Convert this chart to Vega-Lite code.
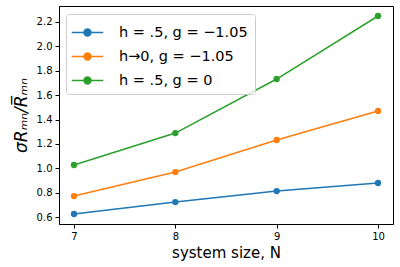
{
  "$schema": "https://vega.github.io/schema/vega-lite/v6.json",
  "width": 334,
  "height": 218,
  "autosize": {"type": "none"},
  "padding": {"left": 59, "top": 6, "right": 7, "bottom": 43},
  "background": "white",
  "config": {"view": {"stroke": "black", "strokeWidth": 1}, "font": "DejaVu Sans"},
  "data": {"values": [
    {"N": 7, "y": 0.625, "s": "h = .5, g = −1.05"},
    {"N": 8, "y": 0.723, "s": "h = .5, g = −1.05"},
    {"N": 9, "y": 0.813, "s": "h = .5, g = −1.05"},
    {"N": 10, "y": 0.879, "s": "h = .5, g = −1.05"},
    {"N": 7, "y": 0.772, "s": "h→0, g = −1.05"},
    {"N": 8, "y": 0.969, "s": "h→0, g = −1.05"},
    {"N": 9, "y": 1.232, "s": "h→0, g = −1.05"},
    {"N": 10, "y": 1.47, "s": "h→0, g = −1.05"},
    {"N": 7, "y": 1.027, "s": "h = .5, g = 0"},
    {"N": 8, "y": 1.289, "s": "h = .5, g = 0"},
    {"N": 9, "y": 1.732, "s": "h = .5, g = 0"},
    {"N": 10, "y": 2.249, "s": "h = .5, g = 0"}
  ]},
  "mark": {"type": "line", "strokeWidth": 1.5, "point": {"filled": true, "size": 40}},
  "encoding": {
    "x": {"field": "N", "type": "quantitative",
      "scale": {"domain": [6.852, 10.148], "nice": false, "zero": false},
      "axis": {"values": [7, 8, 9, 10], "format": "d", "grid": false, "title": "system size, N",
        "titleFontSize": 15, "titleFontWeight": "normal", "titleColor": "black", "titlePadding": 4,
        "labelFontSize": 10, "labelColor": "black", "tickColor": "black", "domainColor": "black", "tickSize": 4, "labelPadding": 3}},
    "y": {"field": "y", "type": "quantitative",
      "scale": {"domain": [0.543, 2.331], "nice": false, "zero": false},
      "axis": {"values": [0.6, 0.8, 1.0, 1.2, 1.4, 1.6, 1.8, 2.0, 2.2], "format": ".1f", "grid": false,
        "title": "σRₘₙ/R̅ₘₙ", "titleFontSize": 17, "titleFontWeight": "normal", "titleFontStyle": "italic", "titleColor": "black", "titlePadding": 6,
        "labelFontSize": 10, "labelColor": "black", "tickColor": "black", "domainColor": "black", "tickSize": 4, "labelPadding": 3}},
    "color": {"field": "s", "type": "nominal",
      "scale": {"domain": ["h = .5, g = −1.05", "h→0, g = −1.05", "h = .5, g = 0"], "range": ["#1f77b4", "#ff7f0e", "#2ca02c"]},
      "legend": {"orient": "none", "legendX": 7, "legendY": 8, "title": null,
        "symbolType": "M-1.5,0H1.5M-0.33,0A0.33,0.33,0,1,1,0.33,0A0.33,0.33,0,1,1,-0.33,0",
        "symbolSize": 441, "symbolStrokeWidth": 1.5, "symbolOffset": 3, "labelFontSize": 14.5, "labelColor": "black",
        "labelOffset": 20, "rowPadding": 6, "padding": 7, "strokeColor": "#cccccc", "fillColor": "rgba(255,255,255,0.8)", "cornerRadius": 3,
        "encode": {"symbols": {"update": {"fill": {"scale": "color", "field": "value"}}}}}}
  }
}
